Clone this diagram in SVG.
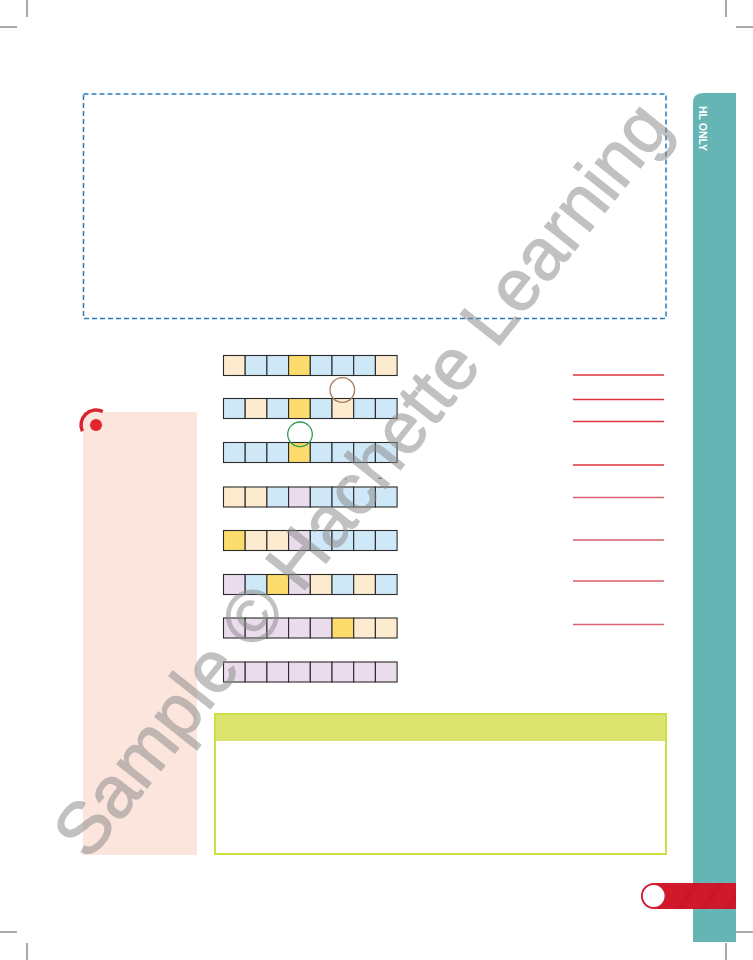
<svg xmlns="http://www.w3.org/2000/svg" width="753" height="960" viewBox="0 0 753 960">
<style>
.crop{stroke:#555;stroke-width:1;fill:none}
.cell{stroke:#2a2a2a;stroke-width:1.1}
.pe{fill:#fdebcf}
.bl{fill:#cfe8f8}
.ye{fill:#fcdc6c}
.la{fill:#eadcec}
.rl{stroke:#e0343f;stroke-width:1.3}
.rl2{stroke:#d9606c;stroke-width:1.3}
</style>
<rect width="753" height="960" fill="#fff"/>
<g id="crop-marks">
<path class="crop" d="M27,0V17M0,27H17M726,0V17M736,27H753M0,932H17M27,943V960M736,932H753M726,943V960"/>
</g>
<g id="dashed-box">
<rect x="83.5" y="94" width="582.5" height="224.5" fill="none" stroke="#2b7cb8" stroke-width="1.5" stroke-dasharray="5,3"/>
</g>
<g id="side-tab">
<path d="M693,103Q693,93 703,93H736V942H693Z" fill="#65b5b5"/>
<text x="698.5" y="106" transform="rotate(90 698.5 106)" font-family="Liberation Sans, Arial, sans-serif" font-weight="bold" font-size="10.5" fill="#fff">HL ONLY</text>
</g>
<g id="margin-panel">
<rect x="83" y="412" width="114" height="443" fill="#fce5dc"/>
<path d="M82.4,431.3A15,15 0 0 1 102.8,411.6" fill="none" stroke="#d9232f" stroke-width="3.5"/>
<circle cx="96" cy="425" r="6" fill="#e1252f"/>
</g>
<g id="arrays">
<g id="row1" transform="translate(223.5,355.5)">
<rect class="cell pe" x="0" width="21.7" height="20"/><rect class="cell bl" x="21.7" width="21.7" height="20"/><rect class="cell bl" x="43.4" width="21.7" height="20"/><rect class="cell ye" x="65.1" width="21.7" height="20"/><rect class="cell bl" x="86.8" width="21.7" height="20"/><rect class="cell bl" x="108.5" width="21.7" height="20"/><rect class="cell bl" x="130.2" width="21.7" height="20"/><rect class="cell pe" x="151.9" width="21.7" height="20"/>
</g>
<g id="row2" transform="translate(223.5,398.5)">
<rect class="cell bl" x="0" width="21.7" height="20"/><rect class="cell pe" x="21.7" width="21.7" height="20"/><rect class="cell bl" x="43.4" width="21.7" height="20"/><rect class="cell ye" x="65.1" width="21.7" height="20"/><rect class="cell bl" x="86.8" width="21.7" height="20"/><rect class="cell pe" x="108.5" width="21.7" height="20"/><rect class="cell bl" x="130.2" width="21.7" height="20"/><rect class="cell bl" x="151.9" width="21.7" height="20"/>
</g>
<g id="row3" transform="translate(223.5,442.5)">
<rect class="cell bl" x="0" width="21.7" height="20"/><rect class="cell bl" x="21.7" width="21.7" height="20"/><rect class="cell bl" x="43.4" width="21.7" height="20"/><rect class="cell ye" x="65.1" width="21.7" height="20"/><rect class="cell bl" x="86.8" width="21.7" height="20"/><rect class="cell bl" x="108.5" width="21.7" height="20"/><rect class="cell bl" x="130.2" width="21.7" height="20"/><rect class="cell bl" x="151.9" width="21.7" height="20"/>
</g>
<g id="row4" transform="translate(223.5,487)">
<rect class="cell pe" x="0" width="21.7" height="20"/><rect class="cell pe" x="21.7" width="21.7" height="20"/><rect class="cell bl" x="43.4" width="21.7" height="20"/><rect class="cell la" x="65.1" width="21.7" height="20"/><rect class="cell bl" x="86.8" width="21.7" height="20"/><rect class="cell bl" x="108.5" width="21.7" height="20"/><rect class="cell bl" x="130.2" width="21.7" height="20"/><rect class="cell bl" x="151.9" width="21.7" height="20"/>
</g>
<g id="row5" transform="translate(223.5,530.5)">
<rect class="cell ye" x="0" width="21.7" height="20"/><rect class="cell pe" x="21.7" width="21.7" height="20"/><rect class="cell pe" x="43.4" width="21.7" height="20"/><rect class="cell la" x="65.1" width="21.7" height="20"/><rect class="cell bl" x="86.8" width="21.7" height="20"/><rect class="cell bl" x="108.5" width="21.7" height="20"/><rect class="cell bl" x="130.2" width="21.7" height="20"/><rect class="cell bl" x="151.9" width="21.7" height="20"/>
</g>
<g id="row6" transform="translate(223.5,574.5)">
<rect class="cell la" x="0" width="21.7" height="20"/><rect class="cell bl" x="21.7" width="21.7" height="20"/><rect class="cell ye" x="43.4" width="21.7" height="20"/><rect class="cell la" x="65.1" width="21.7" height="20"/><rect class="cell pe" x="86.8" width="21.7" height="20"/><rect class="cell bl" x="108.5" width="21.7" height="20"/><rect class="cell pe" x="130.2" width="21.7" height="20"/><rect class="cell bl" x="151.9" width="21.7" height="20"/>
</g>
<g id="row7" transform="translate(223.5,618)">
<rect class="cell la" x="0" width="21.7" height="20"/><rect class="cell la" x="21.7" width="21.7" height="20"/><rect class="cell la" x="43.4" width="21.7" height="20"/><rect class="cell la" x="65.1" width="21.7" height="20"/><rect class="cell la" x="86.8" width="21.7" height="20"/><rect class="cell ye" x="108.5" width="21.7" height="20"/><rect class="cell pe" x="130.2" width="21.7" height="20"/><rect class="cell pe" x="151.9" width="21.7" height="20"/>
</g>
<g id="row8" transform="translate(223.5,662)">
<rect class="cell la" x="0" width="21.7" height="20"/><rect class="cell la" x="21.7" width="21.7" height="20"/><rect class="cell la" x="43.4" width="21.7" height="20"/><rect class="cell la" x="65.1" width="21.7" height="20"/><rect class="cell la" x="86.8" width="21.7" height="20"/><rect class="cell la" x="108.5" width="21.7" height="20"/><rect class="cell la" x="130.2" width="21.7" height="20"/><rect class="cell la" x="151.9" width="21.7" height="20"/>
</g>
<circle id="circle-brown" cx="342.3" cy="390" r="12.3" fill="none" stroke="#a57a5e" stroke-width="1.3"/>
<circle id="circle-green" cx="300" cy="434.3" r="12.3" fill="none" stroke="#2a9d55" stroke-width="1.3"/>
<path d="M345.7,478.5v1.2M378.3,478.3h3.4" stroke="#333" stroke-width="1"/>
</g>
<g id="answer-lines">
<path class="rl" d="M573,375H664M573,399.5H664M573,421.5H664M573,465H664"/>
<path class="rl2" d="M573,497.5H664M573,540H664M573,581H664M573,624.5H664"/>
</g>
<g id="green-box">
<rect x="215" y="714" width="451" height="27" fill="#dbe46e"/>
<rect x="215" y="714" width="451" height="140" fill="none" stroke="#cddf42" stroke-width="2"/>
</g>
<g id="page-tab">
<defs><clipPath id="barclip"><path d="M654,883H736V909H654A13,13 0 0 1 654,883Z"/></clipPath></defs>
<path d="M654,883H736V909H654A13,13 0 0 1 654,883Z" fill="#d01a2c"/>
<g clip-path="url(#barclip)" fill="#b80f22" opacity="0.3">
<polygon points="676,909 692,883 700,883 684,909"/>
<polygon points="700,909 716,883 724,883 708,909"/>
<polygon points="724,909 740,883 748,883 732,909"/>
</g>
<circle cx="653.7" cy="896" r="11.5" fill="#fff" stroke="#d01a2c" stroke-width="1.2"/>
</g>
<g id="connectors"/>
<g id="watermark" opacity="0.52">
<text x="88.5" y="862" transform="rotate(-51.5 88.5 862)" font-family="Liberation Sans, Arial, sans-serif" font-size="73" fill="#8a8a8a" stroke="#8a8a8a" stroke-width="1.2" stroke-linejoin="round">Sample © Hachette Learning</text>
</g>
</svg>
